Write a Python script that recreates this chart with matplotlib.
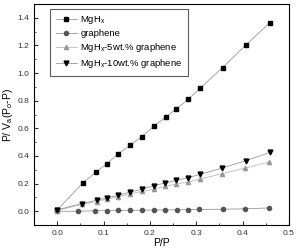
import matplotlib
matplotlib.use("Agg")
import matplotlib.pyplot as plt
from matplotlib.ticker import AutoMinorLocator

plt.rcParams['font.family'] = ['Liberation Sans', 'DejaVu Sans']
plt.rcParams['mathtext.fontset'] = 'custom'
plt.rcParams['mathtext.rm'] = 'Liberation Sans'
plt.rcParams['mathtext.it'] = 'Liberation Sans'

# data
x_mgh = [0.0, 0.056, 0.084, 0.107, 0.132, 0.158, 0.183, 0.208, 0.234, 0.257, 0.283, 0.308, 0.357, 0.407, 0.459]
y_mgh = [0.01, 0.207, 0.284, 0.344, 0.417, 0.479, 0.541, 0.614, 0.681, 0.741, 0.811, 0.890, 1.040, 1.203, 1.365]

x_gr = [0.0, 0.044, 0.081, 0.107, 0.132, 0.158, 0.183, 0.208, 0.233, 0.258, 0.283, 0.307, 0.358, 0.406, 0.457]
y_gr = [0.0, 0.0, 0.004, 0.005, 0.006, 0.007, 0.008, 0.009, 0.010, 0.011, 0.012, 0.013, 0.015, 0.018, 0.024]

x_5 = [0.0, 0.053, 0.085, 0.107, 0.132, 0.157, 0.183, 0.208, 0.233, 0.257, 0.283, 0.308, 0.356, 0.406, 0.457]
y_5 = [0.005, 0.05, 0.07, 0.088, 0.105, 0.125, 0.144, 0.16, 0.18, 0.198, 0.212, 0.233, 0.272, 0.313, 0.356]

x_10 = [0.0, 0.053, 0.085, 0.107, 0.132, 0.157, 0.183, 0.208, 0.232, 0.257, 0.283, 0.308, 0.356, 0.407, 0.459]
y_10 = [0.01, 0.056, 0.079, 0.097, 0.116, 0.139, 0.159, 0.185, 0.204, 0.224, 0.243, 0.267, 0.313, 0.366, 0.426]

fig = plt.figure(figsize=(2.96, 2.49), dpi=100)
ax = fig.add_axes([0.115, 0.096, 0.861, 0.888])

lc = '#999999'
ax.plot(x_mgh, y_mgh, color=lc, lw=0.6, marker='s', ms=2.8, mfc='black', mec='black', label='MgH$_x$')
ax.plot(x_gr, y_gr, color=lc, lw=0.6, marker='o', ms=3, mfc='#555555', mec='#555555', label='graphene')
ax.plot(x_5, y_5, color='#bbbbbb', lw=0.6, marker='^', ms=3, mfc='#999999', mec='#999999', label='MgH$_x$-5wt.% graphene')
ax.plot(x_10, y_10, color=lc, lw=0.6, marker='v', ms=3.5, mfc='black', mec='black', label='MgH$_x$-10wt.% graphene')

ax.set_xlim(-0.05, 0.5)
ax.set_ylim(-0.1, 1.5)
ax.set_xticks([0.0, 0.1, 0.2, 0.3, 0.4, 0.5])
ax.set_yticks([0.0, 0.2, 0.4, 0.6, 0.8, 1.0, 1.2, 1.4])
ax.xaxis.set_minor_locator(AutoMinorLocator(2))
ax.yaxis.set_minor_locator(AutoMinorLocator(2))
ax.tick_params(which='both', direction='in', labelsize=6, colors='#333333')
ax.tick_params(which='major', length=3)
ax.tick_params(which='minor', length=1.5)

ax.set_xlabel('P/P', fontsize=7.5, labelpad=1)
ax.set_ylabel('P/ V$_a$(P$_o$-P)', fontsize=7.5, labelpad=2)

leg = ax.legend(loc='upper left', bbox_to_anchor=(0.045, 1.0), fontsize=6.8, frameon=True,
                fancybox=False, edgecolor='#333333', borderpad=0.6, labelspacing=0.3,
                handlelength=2.2, handletextpad=0.4)
leg.get_frame().set_linewidth(0.8)

fig.savefig('out.png', dpi=100)
